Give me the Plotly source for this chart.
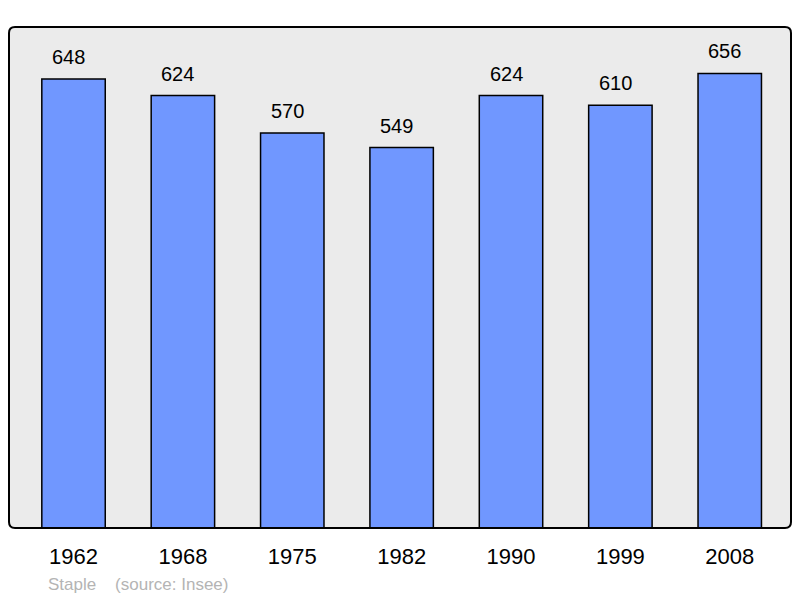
import plotly.graph_objects as go

years = ["1962", "1968", "1975", "1982", "1990", "1999", "2008"]
population = [648, 624, 570, 549, 624, 610, 656]
x_pos = list(range(len(years)))

FONT = "Liberation Sans, Arial, sans-serif"

fig = go.Figure()
fig.add_trace(go.Bar(
    x=x_pos, y=population, width=0.58,
    marker=dict(color="#7097ff", line=dict(color="#000000", width=1.5)),
    hoverinfo="skip",
))

# plot area in page pixels: x 9..791, y 27..528 ; page has 8px body margin
W, H = 792, 590
l, r, t, b = 1, 9, 19, 70
pw, ph = W - l - r, H - t - b
rx, ry = 6 / pw, 6 / ph
path = (f"M {rx},0 L {1-rx},0 Q 1,0 1,{ry} L 1,{1-ry} Q 1,1 {1-rx},1 "
        f"L {rx},1 Q 0,1 0,{1-ry} L 0,{ry} Q 0,0 {rx},0 Z")

annotations = [
    dict(x=xi, y=v, xref="x", yref="y", text=str(v), showarrow=False,
         yanchor="middle", yshift=22, xshift=-5,
         font=dict(family=FONT, size=20, color="#000000"))
    for xi, v in zip(x_pos, population)
]
annotations.append(dict(text="Staple&nbsp;&nbsp;&nbsp;&nbsp;(source: Insee)", xref="paper", yref="paper",
                        x=(46 - 9) / pw, y=-(584 - 528) / ph, xanchor="left", yanchor="middle",
                        showarrow=False,
                        font=dict(family=FONT, size=17, color="#b4b4b4")))

fig.update_layout(
    width=W, height=H,
    margin=dict(l=l, r=r, t=t, b=b, autoexpand=False),
    paper_bgcolor="#ffffff", plot_bgcolor="rgba(0,0,0,0)",
    showlegend=False,
    xaxis=dict(
        range=[-0.59, 6.56], tickmode="array", tickvals=x_pos, ticktext=years,
        showgrid=False, zeroline=False, showline=False, ticks="",
        ticklabelstandoff=13,
        tickfont=dict(family=FONT, size=22, color="#000000"),
    ),
    yaxis=dict(range=[0, 723], showgrid=False, zeroline=False, showticklabels=False, showline=False, ticks=""),
    font=dict(family=FONT),
    shapes=[
        dict(type="path", xref="paper", yref="paper", path=path,
             fillcolor="#ebebeb", line=dict(width=0), layer="below"),
        dict(type="path", xref="paper", yref="paper", path=path,
             line=dict(color="#000000", width=2), layer="above"),
    ],
    annotations=annotations,
)

fig.write_html("out.html")
